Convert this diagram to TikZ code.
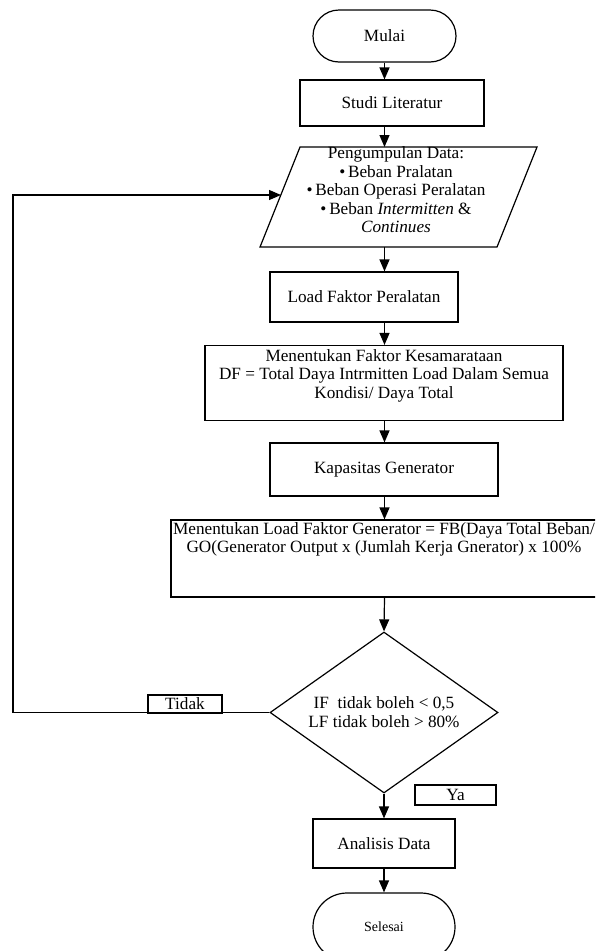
\documentclass[tikz,border=0pt]{standalone}
\usepackage{fontspec}
\setmainfont{Liberation Serif}
\usetikzlibrary{arrows.meta,shapes.misc,shapes.geometric}
\newcommand\myfs{\fontsize{17.2}{18.5}\selectfont}
\newcommand\mysmall{\fontsize{14}{16}\selectfont}
\tikzset{
  base/.style={draw, line width=1.2pt, inner sep=0pt, font=\myfs, align=center},
  box/.style={base, rectangle},
  term/.style={base, rounded rectangle},
  arr/.style={line width=1.2pt, -{Triangle[length=12pt,width=10pt]}},
  plain/.style={line width=1.2pt},
  txt/.style={align=center, inner sep=0pt, font=\myfs}
}
\begin{document}
\begin{tikzpicture}[x=1pt,y=-1pt]
\clip (0,0) rectangle (595,951);
\fill[white] (0,0) rectangle (595,951);
% nodes
\node[term, minimum width=143pt, minimum height=52pt] (mulai) at (384.5,36) {Mulai};
\node[box, minimum width=184pt, minimum height=46pt] (lit) at (392,103) {Studi Literatur};
% parallelogram
\coordinate (p1) at (300,147);
\coordinate (p2) at (537,147);
\coordinate (p3) at (497,247);
\coordinate (p4) at (260,247);
\draw[plain, line join=miter] (p1) -- (p2) -- (p3) -- (p4) -- cycle;
\coordinate (datatop) at (384.5,147);
\coordinate (databot) at (384.5,247);
\coordinate (datain) at (281,195);
\node[txt] (datatxt) at (396,190) {Pengumpulan Data:\\
  •\,Beban Pralatan\\
  •\,Beban Operasi Peralatan\\
  •\,Beban \textit{Intermitten} \&\\
  \textit{Continues}};
\node[box, minimum width=188pt, minimum height=50pt] (load) at (364,297) {Load Faktor Peralatan};
\node[box, minimum width=358pt, minimum height=75pt] (df) at (384,383) {};
\node[txt, anchor=north] (dftxt) at (384,349) {Menentukan Faktor Kesamarataan\\
  DF = Total Daya Intrmitten Load Dalam Semua\\
  Kondisi/ Daya Total};
\node[box, minimum width=228pt, minimum height=53pt] (kap) at (384,469.5) {Kapasitas Generator};
\node[box, minimum width=429pt, minimum height=77pt] (gen) at (385.5,558.5) {};
\node[txt, anchor=north] (gentxt) at (384,522) {Menentukan Load Faktor Generator = FB(Daya Total Beban/\\
  GO(Generator Output x (Jumlah Kerja Gnerator) x 100\%};
\node[base, diamond, minimum width=228pt, minimum height=161pt] (dec) at (384,712.5) {};
\node[txt] (dectxt) at (384,712) {IF\ \ tidak boleh < 0,5\\LF tidak boleh > 80\%};
\node[box, minimum width=74pt, minimum height=18pt] (tidak) at (185,704) {Tidak};
\node[box, minimum width=81pt, minimum height=20pt] (ya) at (455.5,795) {Ya};
\node[box, minimum width=142pt, minimum height=49pt] (ana) at (384,843.5) {Analisis Data};
\node[term, minimum width=142pt, minimum height=68pt, font=\mysmall] (sel) at (384,927) {Selesai};
\coordinate (corner) at (13,712.5);
% connectors
\draw[arr] (mulai.south) -- (lit.north -| mulai.south);
\draw[arr] (lit.south -| mulai.south) -- (datatop);
\draw[arr] (databot) -- (load.north -| mulai.south);
\draw[arr] (load.south -| mulai.south) -- (df.north -| mulai.south);
\draw[arr] (df.south -| mulai.south) -- (kap.north -| mulai.south);
\draw[arr] (kap.south -| mulai.south) -- (gen.north -| mulai.south);
\draw[arr] (gen.south -| mulai.south) -- (dec.north);
\draw[arr] (dec.south) -- (ana.north -| dec.south);
\draw[arr] (ana.south -| dec.south) -- (sel.north -| dec.south);
\draw[arr] (dec.west) -- (corner) |- (datain);
\end{tikzpicture}
\end{document}
